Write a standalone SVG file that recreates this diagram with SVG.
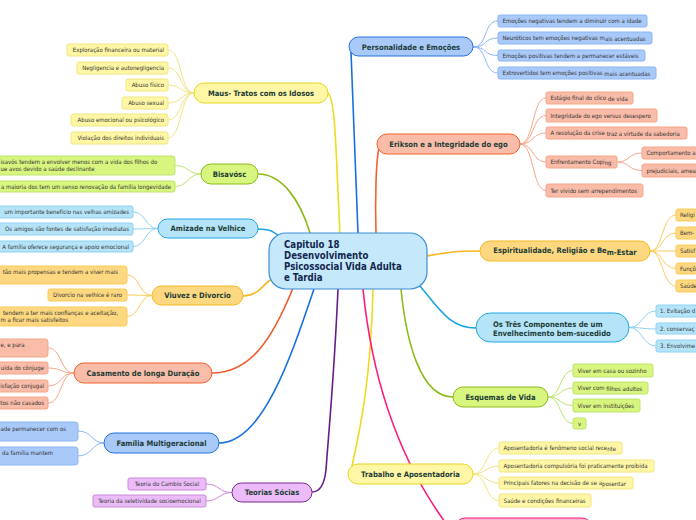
<svg xmlns="http://www.w3.org/2000/svg" width="696" height="520" viewBox="0 0 696 520">
<style>
text{font-family:"DejaVu Sans Condensed","DejaVu Sans",sans-serif;font-stretch:condensed}
.m{font-size:7.6px;font-weight:bold;fill:#1d3c36}
.mc{font-size:9.6px;font-weight:bold;fill:#14284f}
.c{font-size:6px;fill:#333}
.e{text-anchor:end}
.mid{text-anchor:middle}
.blue rect{fill:#a9c9f9;stroke:#2270e0}
.blue2 rect{fill:#a9c9f9;stroke:#8cb6f4;stroke-width:1}
.sal rect{fill:#f9bca8;stroke:#f0602e}
.sal2 rect{fill:#f9bca8;stroke:#f7a68a;stroke-width:1}
.gold rect{fill:#fdd880;stroke:#f5b820}
.gold2 rect{fill:#fdd880;stroke:#fbcb5a;stroke-width:1}
.cyan rect{fill:#b5e4f9;stroke:#22a5e6}
.cyan2 rect{fill:#b5e4f9;stroke:#8ed2f2;stroke-width:1}
.lime rect{fill:#d8f57f;stroke:#8cbc1a}
.lime2 rect{fill:#d8f57f;stroke:#bfe46e;stroke-width:1}
.yel rect{fill:#fff7a6;stroke:#e8d420}
.yel2 rect{fill:#fff7a6;stroke:#f1e580;stroke-width:1}
.pur rect{fill:#ebbcf8;stroke:#7a2a90}
.pur2 rect{fill:#ebbcf8;stroke:#c98ad9;stroke-width:1}
.pink rect{fill:#fbb6d6;stroke:#ff1a78}
#links path{fill:none}
</style>
<g id="links">
<path d="M358 233 C355 150 352 90 351 52" stroke="#1a6fe0" stroke-width="1.6"/>
<path d="M376 233 C375 200 376 160 379 148" stroke="#f2622c" stroke-width="1.6"/>
<path d="M427 256 C450 252 455 251 480 251" stroke="#f8b820" stroke-width="1.6"/>
<path d="M420 286 C440 310 450 328 476 328" stroke="#1aa3e8" stroke-width="1.6"/>
<path d="M401 289 C406 340 420 397 453 397" stroke="#8cbc1a" stroke-width="1.6"/>
<path d="M373 289 C371 380 360 430 352 466" stroke="#eedb20" stroke-width="1.6"/>
<path d="M363 289 C372 380 400 460 445 522" stroke="#ff1a78" stroke-width="1.6"/>
<path d="M338 289 C334 380 328 440 326 470 C324 488 318 492 312 492" stroke="#6a1a8a" stroke-width="1.6"/>
<path d="M314 289 C290 360 262 443 219 443" stroke="#1a6fe0" stroke-width="1.6"/>
<path d="M293 288 C272 340 250 373 212 373" stroke="#f05a2a" stroke-width="1.6"/>
<path d="M272 279 C262 285 258 296 243 296" stroke="#f8b820" stroke-width="1.6"/>
<path d="M282 238 C272 231 270 229 258 229" stroke="#1aa3e8" stroke-width="1.6"/>
<path d="M310 233 C300 200 282 174 258 174" stroke="#8cb81a" stroke-width="1.6"/>
<path d="M340 233 C336 160 336 100 328 93" stroke="#eedb20" stroke-width="1.6"/>
<g stroke="#8cb6f4" stroke-width="1">
<path d="M473 47 C488 47 483 21 498 21"/>
<path d="M473 47 C488 47 483 38 498 38"/>
<path d="M473 47 C488 47 483 55.5 498 55.5"/>
<path d="M473 47 C488 47 483 73 498 73"/>
<path d="M104 443 C92 443 92 431 78 431"/>
<path d="M104 443 C92 443 92 456 78 456"/>
</g>
<g stroke="#f7a68a" stroke-width="1">
<path d="M520 144 C534 144 532 98 546 98"/>
<path d="M520 144 C534 144 532 115.5 546 115.5"/>
<path d="M520 144 C534 144 532 133 546 133"/>
<path d="M520 144 C534 144 532 162 546 162"/>
<path d="M520 144 C534 144 532 190.5 546 190.5"/>
<path d="M617 162 C630 162 628 153 642 153"/>
<path d="M617 162 C630 162 628 170.5 642 170.5"/>
<path d="M74 373 C60 373 62 348 48 348"/>
<path d="M74 373 C60 373 62 368 48 368"/>
<path d="M74 373 C60 373 62 386 48 386"/>
<path d="M74 373 C60 373 62 403 48 403"/>
</g>
<g stroke="#fbcb5a" stroke-width="1">
<path d="M650 251 C663 251 662 215 676 215"/>
<path d="M650 251 C663 251 662 233 676 233"/>
<path d="M650 251 C663 251 662 251 676 251"/>
<path d="M650 251 C663 251 662 268.5 676 268.5"/>
<path d="M650 251 C663 251 662 286 676 286"/>
<path d="M152 295.5 C139 295.5 140 275 127 275"/>
<path d="M152 295.5 C139 295.5 140 295 127 295"/>
<path d="M152 295.5 C139 295.5 140 316.5 127 316.5"/>
</g>
<g stroke="#8ed2f2" stroke-width="1">
<path d="M629 327.5 C643 327.5 642 311 656 311"/>
<path d="M629 327.5 C643 327.5 642 329 656 329"/>
<path d="M629 327.5 C643 327.5 642 346 656 346"/>
<path d="M158 228.5 C145 228.5 146 212 133 212"/>
<path d="M158 228.5 C145 228.5 146 229 133 229"/>
<path d="M158 228.5 C145 228.5 146 246.5 133 246.5"/>
</g>
<g stroke="#bfe46e" stroke-width="1">
<path d="M548 397 C561 397 560 370.5 573 370.5"/>
<path d="M548 397 C561 397 560 388 573 388"/>
<path d="M548 397 C561 397 560 405.5 573 405.5"/>
<path d="M548 397 C561 397 560 423.5 573 423.5"/>
<path d="M201 174 C188 174 188 165.5 175 165.5"/>
<path d="M201 174 C188 174 188 186.5 175 186.5"/>
</g>
<g stroke="#f1e580" stroke-width="1">
<path d="M473 474 C486 474 486 448 499 448"/>
<path d="M473 474 C486 474 486 466 499 466"/>
<path d="M473 474 C486 474 486 483 499 483"/>
<path d="M473 474 C486 474 486 500.5 499 500.5"/>
<path d="M194 93 C180 93 182 50 168 50"/>
<path d="M194 93 C180 93 182 68 168 68"/>
<path d="M194 93 C180 93 182 85 168 85"/>
<path d="M194 93 C180 93 182 103 168 103"/>
<path d="M194 93 C180 93 182 120 168 120"/>
<path d="M194 93 C180 93 182 138 168 138"/>
</g>
<g stroke="#c98ad9" stroke-width="1">
<path d="M232 492.5 C219 492.5 219 484 206 484"/>
<path d="M232 492.5 C219 492.5 219 501 206 501"/>
</g>
</g>

<g id="n-center">
<rect x="269" y="233" width="158" height="56" rx="17" fill="#c5e9fb" stroke="#3d8ed6" stroke-width="1.2"/>
<text class="mc" x="284" y="248">Capitulo 18</text>
<text class="mc" x="284" y="259">Desenvolvimento</text>
<text class="mc" x="284" y="270">Psicossocial Vida Adulta</text>
<text class="mc" x="284" y="281">e Tardia</text>
</g>

<g id="n-pers" class="blue"><rect x="349" y="37" width="124" height="19" rx="9.5"/><text class="m mid" x="411" y="49.5">Personalidade e Emoções</text></g>
<g id="n-pers-1" class="blue2"><rect x="498" y="15" width="149" height="12" rx="2"/><text class="c" x="502.5" y="23.3">Emoções negativas tendem a diminuir com a idade</text></g>
<g id="n-pers-2" class="blue2"><rect x="498" y="32" width="154" height="12" rx="2"/><text class="c" x="502.5" y="39.8">Neuróticos tem emoções negativas m<tspan dy="1.3">ais acentuadas</tspan></text></g>
<g id="n-pers-3" class="blue2"><rect x="498" y="50" width="147" height="11" rx="2"/><text class="c" x="502.5" y="57.8">Emoções positivas tendem a permanecer estáveis</text></g>
<g id="n-pers-4" class="blue2"><rect x="498" y="67" width="158" height="12" rx="2"/><text class="c" x="502.5" y="74.5">Extrovertidos tem emoções positivas <tspan dy="1.5">mais acentuadas</tspan></text></g>

<g id="n-erik" class="sal"><rect x="377" y="134" width="143" height="20" rx="10"/><text class="m mid" x="448.5" y="146.8">Erikson e a Integridade do ego</text></g>
<g id="n-erik-1" class="sal2"><rect x="546" y="92" width="87" height="12" rx="2"/><text class="c" x="550.5" y="99.5">Estágio final do clico <tspan dy="1.4">de vida</tspan></text></g>
<g id="n-erik-2" class="sal2"><rect x="546" y="109" width="111" height="13" rx="2"/><text class="c" x="550.5" y="117.8">Integridade do ego versus desespero</text></g>
<g id="n-erik-3" class="sal2"><rect x="546" y="127" width="141" height="12" rx="2"/><text class="c" x="550.5" y="134.5">A resolução da crise <tspan dy="1.4">traz a virtude da sabedoria</tspan></text></g>
<g id="n-erik-4" class="sal2"><rect x="546" y="156" width="71" height="12" rx="2"/><text class="c" x="550.5" y="163.5">Enfrentamento Copi<tspan dy="1.4">ng</tspan></text></g>
<g id="n-erik-4a" class="sal2"><rect x="642" y="147" width="70" height="12" rx="2"/><text class="c" x="646.5" y="155.3">Comportamento a</text></g>
<g id="n-erik-4b" class="sal2"><rect x="642" y="164" width="70" height="13" rx="2"/><text class="c" x="646.5" y="172.8">prejudiciais, amea</text></g>
<g id="n-erik-5" class="sal2"><rect x="546" y="184" width="97" height="13" rx="2"/><text class="c" x="550.5" y="192.8">Ter vivido sem arrependimentos</text></g>

<g id="n-esp" class="gold"><rect x="480" y="241" width="170" height="20" rx="10"/><text class="m mid" x="565" y="253.3">Espiritualidade, Religião e Be<tspan dy="1.2">m-Estar</tspan></text></g>
<g id="n-esp-1" class="gold2"><rect x="676" y="209" width="40" height="12" rx="2"/><text class="c" x="680" y="217.3">Religi</text></g>
<g id="n-esp-2" class="gold2"><rect x="676" y="227" width="40" height="12" rx="2"/><text class="c" x="680" y="235.3">Bem-</text></g>
<g id="n-esp-3" class="gold2"><rect x="676" y="245" width="40" height="12" rx="2"/><text class="c" x="680" y="253.3">Satisf</text></g>
<g id="n-esp-4" class="gold2"><rect x="676" y="263" width="40" height="11" rx="2"/><text class="c" x="680" y="270.8">Funçõ</text></g>
<g id="n-esp-5" class="gold2"><rect x="676" y="280" width="40" height="12" rx="2"/><text class="c" x="680" y="288.3">Saúde</text></g>

<g id="n-tres" class="cyan"><rect x="476" y="313" width="153" height="29" rx="14.5"/><text class="m" x="493" y="327">Os Três Componentes de um</text><text class="m" x="493" y="336.3">Envelhecimento bem-sucedido</text></g>
<g id="n-tres-1" class="cyan2"><rect x="656" y="305" width="50" height="12" rx="2"/><text class="c" x="660" y="313.3">1. Evitação d</text></g>
<g id="n-tres-2" class="cyan2"><rect x="656" y="323" width="50" height="11" rx="2"/><text class="c" x="660" y="330.8">2. conservaç</text></g>
<g id="n-tres-3" class="cyan2"><rect x="656" y="340" width="50" height="12" rx="2"/><text class="c" x="660" y="348.3">3. Envolvime</text></g>

<g id="n-esq" class="lime"><rect x="453" y="387" width="95" height="20" rx="10"/><text class="m mid" x="500.5" y="399.8">Esquemas de Vida</text></g>
<g id="n-esq-1" class="lime2"><rect x="573" y="364" width="80" height="13" rx="2"/><text class="c" x="577.5" y="372.8">Viver em casa ou sozinho</text></g>
<g id="n-esq-2" class="lime2"><rect x="573" y="382" width="75" height="12" rx="2"/><text class="c" x="577.5" y="389.6">Viver com <tspan dy="1.3">filhos adultos</tspan></text></g>
<g id="n-esq-3" class="lime2"><rect x="573" y="399" width="67" height="13" rx="2"/><text class="c" x="577.5" y="407.8">Viver em instituições</text></g>
<g id="n-esq-4" class="lime2"><rect x="573" y="418" width="13" height="11" rx="2"/><text class="c mid" x="579.5" y="425.8">v</text></g>

<g id="n-trab" class="yel"><rect x="348" y="464" width="125" height="20" rx="10"/><text class="m mid" x="410.5" y="476.8">Trabalho e Aposentadoria</text></g>
<g id="n-trab-1" class="yel2"><rect x="499" y="442" width="123" height="12" rx="2"/><text class="c" x="503.5" y="449.6">Aposentadoria é fenômeno social rece<tspan dy="1.3">nte</tspan></text></g>
<g id="n-trab-2" class="yel2"><rect x="499" y="460" width="155" height="12" rx="2"/><text class="c" x="503.5" y="468.3">Aposentadoria compulsória foi praticamente proibida</text></g>
<g id="n-trab-3" class="yel2"><rect x="499" y="477" width="134" height="12" rx="2"/><text class="c" x="503.5" y="484.6">Principais fatores na decisão de se a<tspan dy="1.3">posentar</tspan></text></g>
<g id="n-trab-4" class="yel2"><rect x="499" y="494" width="92" height="13" rx="2"/><text class="c" x="503.5" y="502.8">Saúde e condições financeiras</text></g>

<g id="n-pink" class="pink"><rect x="455" y="518" width="137" height="20" rx="10"/></g>

<g id="n-maus" class="yel"><rect x="194" y="83" width="134" height="20" rx="10"/><text class="m mid" x="261" y="95.8">Maus- Tratos com os Idosos</text></g>
<g id="n-maus-1" class="yel2"><rect x="67" y="44" width="101" height="12" rx="2"/><text class="c e" x="164" y="52.3">Exploração financeira ou material</text></g>
<g id="n-maus-2" class="yel2"><rect x="77" y="62" width="91" height="12" rx="2"/><text class="c e" x="164" y="70.3">Negligencia e autonegligencia</text></g>
<g id="n-maus-3" class="yel2"><rect x="126" y="79" width="42" height="12" rx="2"/><text class="c e" x="164" y="87.3">Abuso físico</text></g>
<g id="n-maus-4" class="yel2"><rect x="122" y="97" width="46" height="12" rx="2"/><text class="c e" x="164" y="105.3">Abuso sexual</text></g>
<g id="n-maus-5" class="yel2"><rect x="71" y="114" width="97" height="12" rx="2"/><text class="c e" x="164" y="122.3">Abuso emocional ou psicológico</text></g>
<g id="n-maus-6" class="yel2"><rect x="71" y="132" width="97" height="12" rx="2"/><text class="c e" x="164" y="140.3">Violação dos direitos individuais</text></g>

<g id="n-bis" class="lime"><rect x="201" y="164" width="57" height="20" rx="10"/><text class="m mid" x="229.5" y="176.8">Bisavósc</text></g>
<g id="n-bis-1" class="lime2"><rect x="-10" y="156" width="185" height="19" rx="3"/><text class="c" x="0.5" y="164">isavós tendem a envolver menos com a vida dos filhos do</text><text class="c" x="0.5" y="171">ue avos devido a saúde declinante</text></g>
<g id="n-bis-2" class="lime2"><rect x="-10" y="181" width="185" height="11" rx="2"/><text class="c e" x="171" y="188.8">a maioria dos tem um senso renovação da família longevidade</text></g>

<g id="n-ami" class="cyan"><rect x="158" y="219" width="100" height="19" rx="9.5"/><text class="m mid" x="208" y="231.3">Amizade na Velhice</text></g>
<g id="n-ami-1" class="cyan2"><rect x="-10" y="206" width="143" height="12" rx="2"/><text class="c e" x="129" y="214.3">um importante benefício nas velhas amizades</text></g>
<g id="n-ami-2" class="cyan2"><rect x="-10" y="223" width="143" height="12" rx="2"/><text class="c e" x="129" y="231.3">Os amigos são fontes de satisfação imediatas</text></g>
<g id="n-ami-3" class="cyan2"><rect x="-10" y="241" width="143" height="11" rx="2"/><text class="c e" x="129" y="248.8">A família oferece segurança e apoio emocional</text></g>

<g id="n-viu" class="gold"><rect x="152" y="286" width="91" height="19" rx="9.5"/><text class="m mid" x="197.5" y="298.3">Viuvez e Divorcio</text></g>
<g id="n-viu-1" class="gold2"><rect x="-10" y="266" width="137" height="18" rx="3"/><text class="c e" x="118" y="273.5">tão mais propensas e tendem a viver mais</text></g>
<g id="n-viu-2" class="gold2"><rect x="48" y="289" width="79" height="12" rx="2"/><text class="c mid" x="87.5" y="297.3">Divorcio na velhice é raro</text></g>
<g id="n-viu-3" class="gold2"><rect x="-10" y="307" width="137" height="19" rx="3"/><text class="c e" x="118" y="314.8">tendem a ter mais confianças e aceitação,</text><text class="c" x="0.5" y="321.8">m a ficar mais satisfeitos</text></g>

<g id="n-cas" class="sal"><rect x="74" y="363" width="138" height="20" rx="10"/><text class="m mid" x="143" y="375.8">Casamento de longa Duração</text></g>
<g id="n-cas-1" class="sal2"><rect x="-10" y="339" width="58" height="18" rx="3"/><text class="c" x="0.5" y="347">e, e para</text></g>
<g id="n-cas-2" class="sal2"><rect x="-10" y="362" width="58" height="12" rx="2"/><text class="c e" x="44" y="370.3">uida do cônjuge</text></g>
<g id="n-cas-3" class="sal2"><rect x="-10" y="380" width="58" height="12" rx="2"/><text class="c e" x="44" y="388.3">isfação conjugal</text></g>
<g id="n-cas-4" class="sal2"><rect x="-10" y="397" width="58" height="12" rx="2"/><text class="c e" x="44" y="405.3">tos não casados</text></g>

<g id="n-fam" class="blue"><rect x="104" y="433" width="115" height="20" rx="10"/><text class="m mid" x="161.5" y="445.8">Família Multigeracional</text></g>
<g id="n-fam-1" class="blue2"><rect x="-10" y="422" width="88" height="19" rx="3"/><text class="c" x="0.5" y="430.5">ade permanecer com os</text></g>
<g id="n-fam-2" class="blue2"><rect x="-10" y="447" width="88" height="18" rx="3"/><text class="c" x="2" y="455">da família mantem</text></g>

<g id="n-teo" class="pur"><rect x="232" y="483" width="80" height="19" rx="9.5"/><text class="m mid" x="272" y="495.3">Teorias Sócias</text></g>
<g id="n-teo-1" class="pur2"><rect x="128" y="478" width="78" height="12" rx="2"/><text class="c mid" x="167" y="486.3">Teoria do Cambio Social</text></g>
<g id="n-teo-2" class="pur2"><rect x="93" y="495" width="113" height="12" rx="2"/><text class="c mid" x="149.5" y="503.3">Teoria da seletividade socioemocional</text></g>
</svg>
